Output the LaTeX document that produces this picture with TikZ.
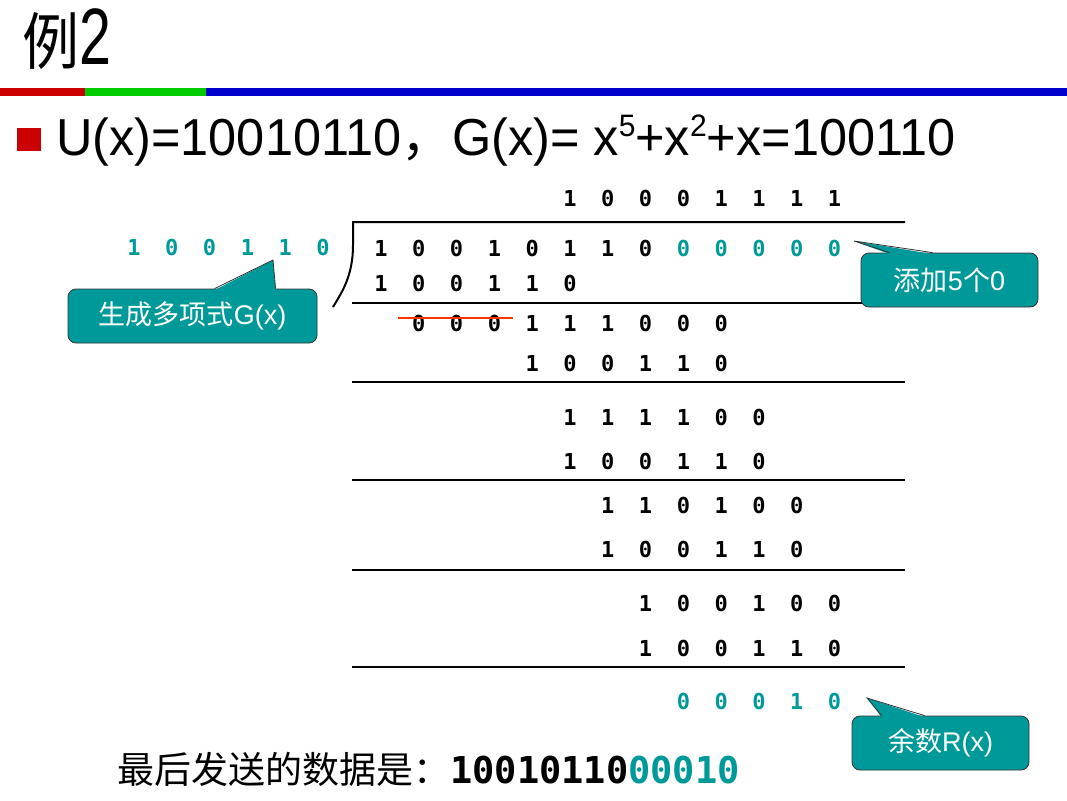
\documentclass[tikz,border=0pt]{standalone}
\usepackage{fontspec}
\setmainfont{Liberation Sans}
\newfontfamily\cjk{Noto Sans CJK SC}
\newfontfamily\bitfont{DejaVu Sans Mono}
\usetikzlibrary{positioning, calc}

\definecolor{tealbox}{RGB}{0,153,153}
\definecolor{barred}{RGB}{204,0,0}
\definecolor{bargreen}{RGB}{0,204,0}
\definecolor{barblue}{RGB}{0,0,204}
\definecolor{strikered}{RGB}{255,51,0}

\tikzset{
    bit/.style={font=\bitfont\bfseries\fontsize{22}{22}\selectfont, inner sep=0pt},
    tealbit/.style={bit, text=tealbox},
    rule/.style={line width=2pt},
    note/.style={draw=black!80, fill=tealbox, rounded corners=8pt, line width=0.8pt, text=white,
        font=\fontsize{27}{27}\selectfont, minimum width=177pt, minimum height=54pt, inner sep=0pt},
    noteline/.style={draw=black!80, line width=0.8pt}
}

\begin{document}
\begin{tikzpicture}[x=1pt, y=-1pt]
    \useasboundingbox (0,0) rectangle (1067,800);

    % title and colour bar
    \node[anchor=base west, inner sep=0pt] (title) at (22,64) {\scalebox{0.92}[1]{\cjk\fontsize{62}{62}\selectfont 例\scalebox{0.78}[1]{\fontsize{80}{80}\selectfont\rmfamily 2}}};
    \fill[barred] (0,88) rectangle (85,96);
    \fill[bargreen] (85,88) rectangle (206,96);
    \fill[barblue] (206,88) rectangle (1067,96);

    \fill[barred] (17,128) rectangle (41,151);
    \node[anchor=base west, inner sep=0pt, font=\fontsize{52}{52}\selectfont] (eq) at (56,155)
        {\scalebox{0.97}[1]{U(x)=10010110{\cjk ，}G(x)= x\raisebox{19pt}{\fontsize{31}{31}\selectfont 5}+x\raisebox{19pt}{\fontsize{31}{31}\selectfont 2}+x=100110}};

    % long division
    \foreach \d [count=\i from 0] in {1,0,0,0,1,1,1,1}
        \node[bit] (q\i) at ({381+37.8*(\i+5)},198) {\d};
    \foreach \d [count=\i from 0] in {1,0,0,1,1,0}
        \node[tealbit] (g\i) at ({134+37.8*\i},247) {\d};
    \foreach \d [count=\i from 0] in {1,0,0,1,0,1,1,0}
        \node[bit] (a\i) at ({381+37.8*\i},248) {\d};
    \foreach \d [count=\i from 8] in {0,0,0,0,0}
        \node[tealbit] (a\i) at ({381+37.8*\i},248) {\d};
    \foreach \d [count=\i from 0] in {1,0,0,1,1,0}
        \node[bit] (b\i) at ({381+37.8*\i},283) {\d};
    \foreach \d [count=\i from 0] in {0,0,0,1,1,1,0,0,0}
        \node[bit] (c\i) at ({381+37.8*(\i+1)},323) {\d};
    \foreach \d [count=\i from 0] in {1,0,0,1,1,0}
        \node[bit] (d\i) at ({381+37.8*(\i+4)},363) {\d};
    \foreach \d [count=\i from 0] in {1,1,1,1,0,0}
        \node[bit] (e\i) at ({381+37.8*(\i+5)},417) {\d};
    \foreach \d [count=\i from 0] in {1,0,0,1,1,0}
        \node[bit] (f\i) at ({381+37.8*(\i+5)},461) {\d};
    \foreach \d [count=\i from 0] in {1,1,0,1,0,0}
        \node[bit] (h\i) at ({381+37.8*(\i+6)},505) {\d};
    \foreach \d [count=\i from 0] in {1,0,0,1,1,0}
        \node[bit] (k\i) at ({381+37.8*(\i+6)},549) {\d};
    \foreach \d [count=\i from 0] in {1,0,0,1,0,0}
        \node[bit] (m\i) at ({381+37.8*(\i+7)},603) {\d};
    \foreach \d [count=\i from 0] in {1,0,0,1,1,0}
        \node[bit] (n\i) at ({381+37.8*(\i+7)},648) {\d};
    \foreach \d [count=\i from 0] in {0,0,0,1,0}
        \node[tealbit] (r\i) at ({381+37.8*(\i+8)},701) {\d};

    \draw[rule] (905,222) -- (353,222) -- (353,245) .. controls (353,276) and (342,292) .. (333,307);
    \draw[rule] (352,303) -- (905,303);
    \draw[rule] (352,382) -- (905,382);
    \draw[rule] (352,480) -- (905,480);
    \draw[rule] (352,570) -- (905,570);
    \draw[rule] (352,667) -- (905,667);

    \draw[strikered, line width=2pt] ($(c0.center)+(-21,-5)$) -- ($(c2.center)+(19,-5)$);

    % callouts
    \node[note] (gnote) at (192.5,316) [minimum width=249pt] {{\cjk 生成多项式}G(x)};
    \coordinate (gtip) at (273,260);
    \fill[tealbox] ($(gnote.north west)+(147,1.5)$) -- (gtip) -- ($(gnote.north west)+(208,1.5)$) -- cycle;
    \draw[noteline] (gnote.north west) ++(147,0) -- (gtip) -- ($(gnote.north west)+(208,0)$);

    \node[note] (znote) at (949.5,280) {{\cjk 添加}5{\cjk 个}0};
    \coordinate (ztip) at (854,241);
    \fill[tealbox] ($(znote.north west)+(29,1.5)$) -- (ztip) -- ($(znote.north west)+(72,1.5)$) -- cycle;
    \draw[noteline] (znote.north west) ++(29,0) -- (ztip) -- ($(znote.north west)+(72,0)$);

    \node[note] (rnote) at (940.5,743) {{\cjk 余数}R(x)};
    \coordinate (rtip) at (867,698);
    \fill[tealbox] ($(rnote.north west)+(30,1.5)$) -- (rtip) -- ($(rnote.north west)+(73,1.5)$) -- cycle;
    \draw[noteline] (rnote.north west) ++(30,0) -- (rtip) -- ($(rnote.north west)+(73,0)$);

    % result
    \node[anchor=base west, inner sep=0pt] (sent) at (117,783)
        {{\cjk\fontsize{37}{37}\selectfont 最后发送的数据是：}{\bitfont\bfseries\fontsize{37}{37}\selectfont 10010110\textcolor{tealbox}{00010}}};
\end{tikzpicture}
\end{document}
